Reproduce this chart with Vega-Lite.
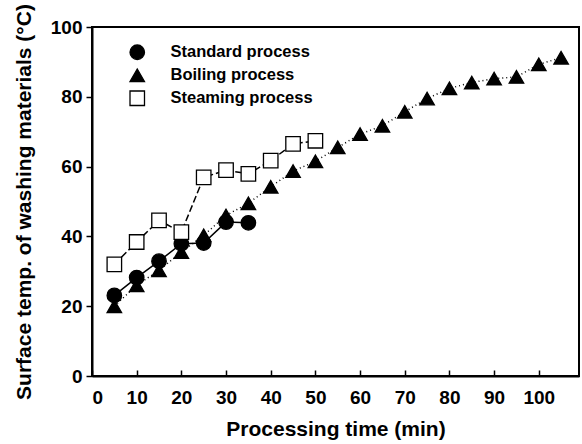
{
  "$schema": "https://vega.github.io/schema/vega-lite/v6.json",
  "width": 487,
  "height": 349,
  "autosize": {"type": "none"},
  "padding": {"left": 92, "top": 27, "right": 3, "bottom": 68},
  "background": "white",
  "config": {
    "view": {"stroke": "black", "strokeWidth": 2},
    "font": "Liberation Sans",
    "axis": {
      "domainColor": "black",
      "domainWidth": 2,
      "tickColor": "black",
      "tickWidth": 1.5,
      "grid": false,
      "labelFont": "Liberation Sans",
      "labelFontWeight": "bold",
      "labelFontSize": 19,
      "labelColor": "black",
      "titleFont": "Liberation Sans",
      "titleFontWeight": "bold",
      "titleFontSize": 21,
      "titleColor": "black"
    },
    "legend": {
      "orient": "none",
      "legendX": 37,
      "legendY": 17,
      "symbolSize": 210,
      "symbolStrokeWidth": 1.3,
      "labelFont": "Liberation Sans",
      "labelFontWeight": "bold",
      "labelFontSize": 16.5,
      "labelColor": "black",
      "rowPadding": 3,
      "labelOffset": 25
    }
  },
  "data": {
    "values": [
      {"series": "Standard process", "time": 5, "temp": 23.1},
      {"series": "Standard process", "time": 10, "temp": 28.2},
      {"series": "Standard process", "time": 15, "temp": 32.9},
      {"series": "Standard process", "time": 20, "temp": 37.9},
      {"series": "Standard process", "time": 25, "temp": 38.1},
      {"series": "Standard process", "time": 30, "temp": 44.1},
      {"series": "Standard process", "time": 35, "temp": 43.9},
      {"series": "Boiling process", "time": 5, "temp": 20.0},
      {"series": "Boiling process", "time": 10, "temp": 26.0},
      {"series": "Boiling process", "time": 15, "temp": 30.3},
      {"series": "Boiling process", "time": 20, "temp": 35.5},
      {"series": "Boiling process", "time": 25, "temp": 40.3},
      {"series": "Boiling process", "time": 30, "temp": 46.0},
      {"series": "Boiling process", "time": 35, "temp": 49.5},
      {"series": "Boiling process", "time": 40, "temp": 54.2},
      {"series": "Boiling process", "time": 45, "temp": 58.7},
      {"series": "Boiling process", "time": 50, "temp": 61.5},
      {"series": "Boiling process", "time": 55, "temp": 65.5},
      {"series": "Boiling process", "time": 60, "temp": 69.3},
      {"series": "Boiling process", "time": 65, "temp": 71.7},
      {"series": "Boiling process", "time": 70, "temp": 75.7},
      {"series": "Boiling process", "time": 75, "temp": 79.5},
      {"series": "Boiling process", "time": 80, "temp": 82.4},
      {"series": "Boiling process", "time": 85, "temp": 84.1},
      {"series": "Boiling process", "time": 90, "temp": 85.2},
      {"series": "Boiling process", "time": 95, "temp": 85.7},
      {"series": "Boiling process", "time": 100, "temp": 89.3},
      {"series": "Boiling process", "time": 105, "temp": 91.2},
      {"series": "Steaming process", "time": 5, "temp": 32.0},
      {"series": "Steaming process", "time": 10, "temp": 38.4},
      {"series": "Steaming process", "time": 15, "temp": 44.6},
      {"series": "Steaming process", "time": 20, "temp": 41.2},
      {"series": "Steaming process", "time": 25, "temp": 56.9},
      {"series": "Steaming process", "time": 30, "temp": 59.0},
      {"series": "Steaming process", "time": 35, "temp": 57.9},
      {"series": "Steaming process", "time": 40, "temp": 61.7},
      {"series": "Steaming process", "time": 45, "temp": 66.5},
      {"series": "Steaming process", "time": 50, "temp": 67.4}
    ]
  },
  "encoding": {
    "x": {
      "field": "time",
      "type": "quantitative",
      "scale": {"domain": [0, 109], "nice": false, "zero": false},
      "axis": {
        "title": "Processing time (min)",
        "values": [0, 10, 20, 30, 40, 50, 60, 70, 80, 90, 100],
        "tickSize": -6,
        "labelPadding": 18,
        "titlePadding": 11
      }
    },
    "y": {
      "field": "temp",
      "type": "quantitative",
      "scale": {"domain": [0, 100], "nice": false},
      "axis": {
        "title": "Surface temp. of washing materials (°C)",
        "values": [0, 20, 40, 60, 80, 100],
        "tickSize": 6,
        "labelPadding": 4,
        "titlePadding": 16
      }
    }
  },
  "layer": [
    {
      "transform": [{"filter": "datum.series === 'Standard process'"}],
      "mark": {"type": "line", "color": "black", "strokeWidth": 1.5},
      "encoding": {}
    },
    {
      "transform": [{"filter": "datum.series === 'Boiling process'"}],
      "mark": {"type": "line", "color": "black", "strokeWidth": 1.5, "strokeDash": [1, 3]},
      "encoding": {}
    },
    {
      "transform": [{"filter": "datum.series === 'Steaming process'"}],
      "mark": {"type": "line", "color": "black", "strokeWidth": 1.5, "strokeDash": [7, 3]},
      "encoding": {}
    },
    {
      "mark": {"type": "point", "filled": true, "strokeWidth": 1.3, "opacity": 1, "size": 210},
      "encoding": {
        "shape": {
          "field": "series",
          "type": "nominal",
          "title": null,
          "scale": {
            "domain": ["Standard process", "Boiling process", "Steaming process"],
            "range": ["circle", "triangle-up", "square"]
          }
        },
        "fill": {
          "field": "series",
          "type": "nominal",
          "title": null,
          "scale": {
            "domain": ["Standard process", "Boiling process", "Steaming process"],
            "range": ["black", "black", "white"]
          }
        },
        "stroke": {
          "field": "series",
          "type": "nominal",
          "title": null,
          "scale": {
            "domain": ["Standard process", "Boiling process", "Steaming process"],
            "range": ["black", "black", "black"]
          }
        }
      }
    }
  ]
}
